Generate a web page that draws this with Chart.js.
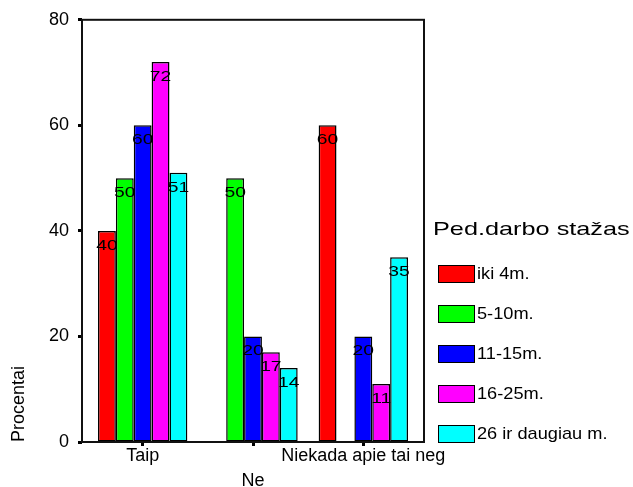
<!DOCTYPE html>
<html>
<head>
<meta charset="utf-8">
<title>Ped.darbo stažas</title>
<script src="https://cdn.jsdelivr.net/npm/chart.js@4.4.1/dist/chart.umd.min.js"></script>
<style>
  html, body { margin: 0; padding: 0; background: #fff; }
  #wrap { position: relative; width: 633px; height: 487px; overflow: hidden; }
  #chart { display: block; }
  #legend { position: absolute; left: 0; top: 0; width: 633px; height: 487px; pointer-events: none;
            font-family: "Liberation Sans", Arial, sans-serif; color: #000; }
  .lg-title { position: absolute; left: 433px; top: 219px; font-size: 19px; line-height: 19px;
              white-space: nowrap; transform: scaleX(1.33); transform-origin: 0 0; }
  .lg-box { position: absolute; left: 438px; width: 37px; height: 18px; box-sizing: border-box;
            border: 1.5px solid #000; }
  .lg-text { position: absolute; left: 477px; font-size: 17px; line-height: 18px; height: 18px;
             white-space: nowrap; transform: scaleX(1.07); transform-origin: 0 0; }
</style>
</head>
<body>
<div id="wrap">
  <canvas id="chart" width="633" height="487"></canvas>
  <div id="legend"></div>
</div>
<script>
// Answer categories along the x axis
const categories = ['Taip', 'Ne', 'Niekada apie tai neg'];

// Work experience groups (legend entries)
const seriesNames = ['iki 4m.', '5-10m.', '11-15m.', '16-25m.', '26 ir daugiau m.'];

// Percent per category for each experience group (null = no bar)
const iki4m = [40, null, 60];
const m5to10 = [50, 50, null];
const m11to15 = [60, 20, 20];
const m16to25 = [72, 17, 11];
const m26plus = [51, 14, 35];

// Value axis ticks
const yTicks = [0, 20, 40, 60, 80];

const seriesValues = [iki4m, m5to10, m11to15, m16to25, m26plus];
const seriesColors = ['#ff0000', '#00ff00', '#0000ff', '#ff00ff', '#00ffff'];

const FONT = '"Liberation Sans", Arial, sans-serif';

const datasets = seriesNames.map((name, i) => ({
  label: name,
  data: seriesValues[i].map((v, j) => ({ x: j, y: v })),
  backgroundColor: seriesColors[i],
  borderColor: '#000',
  borderWidth: 1.5,
  borderSkipped: false
}));

// Black frame around the plot area
const plotFrame = {
  id: 'plotFrame',
  afterDatasetsDraw(chart) {
    const { ctx, chartArea: a } = chart;
    ctx.save();
    ctx.strokeStyle = '#111';
    ctx.lineWidth = 2;
    ctx.strokeRect(a.left, a.top, a.right - a.left, a.bottom - a.top);
    ctx.restore();
  }
};

// Value printed just below the top of each bar
const valueLabels = {
  id: 'valueLabels',
  afterDatasetsDraw(chart) {
    const ctx = chart.ctx;
    ctx.save();
    ctx.fillStyle = '#000';
    ctx.font = '14.5px ' + FONT;
    ctx.textAlign = 'center';
    ctx.textBaseline = 'middle';
    chart.data.datasets.forEach((ds, di) => {
      const meta = chart.getDatasetMeta(di);
      meta.data.forEach((bar, j) => {
        const v = ds.data[j].y;
        if (v === null || v === undefined) return;
        ctx.save();
        ctx.translate(bar.x, bar.y + 15);
        ctx.scale(1.33, 1);
        ctx.fillText(String(v), 0, 0);
        ctx.restore();
      });
    });
    ctx.restore();
  }
};

const chart = new Chart(document.getElementById('chart'), {
  type: 'bar',
  data: { datasets },
  options: {
    responsive: false,
    animation: false,
    devicePixelRatio: 1,
    layout: { padding: { top: 19, right: 209, left: 0, bottom: 0 } },
    datasets: { bar: { barPercentage: 1, categoryPercentage: 0.81 } },
    plugins: {
      legend: { display: false },
      tooltip: { enabled: false }
    },
    scales: {
      x: {
        type: 'linear',
        offset: false,
        min: -0.55,
        max: categories.length - 1 + 0.55,
        afterBuildTicks(scale) {
          scale.ticks = categories.map((_, i) => ({ value: i }));
        },
        afterFit(scale) { scale.height = 45; },
        border: { display: false },
        grid: {
          offset: false,
          drawOnChartArea: false,
          drawTicks: true,
          tickLength: 4,
          tickWidth: 3,
          tickColor: '#000'
        },
        ticks: {
          autoSkip: false,
          maxRotation: 0,
          minRotation: 0,
          padding: -2,
          color: '#000',
          font: { family: FONT, size: 18, lineHeight: 1.39 },
          callback(value, index) {
            const label = categories[value];
            // every second label drops to a lower line so long names do not collide
            return index % 2 === 1 ? ['', label] : label;
          }
        }
      },
      y: {
        min: yTicks[0],
        max: yTicks[yTicks.length - 1],
        afterBuildTicks(scale) {
          scale.ticks = yTicks.map(v => ({ value: v }));
        },
        afterFit(scale) { scale.width = 82; },
        border: { display: false },
        grid: {
          drawOnChartArea: false,
          drawTicks: true,
          tickLength: 4,
          tickWidth: 3,
          tickColor: '#000'
        },
        ticks: {
          padding: 9,
          color: '#000',
          font: { family: FONT, size: 18 }
        },
        title: {
          display: true,
          text: 'Procentai',
          align: 'start',
          color: '#000',
          padding: { top: 8, bottom: 0 },
          font: { family: FONT, size: 18 }
        }
      }
    }
  },
  plugins: [plotFrame, valueLabels]
});

// Legend built from the chart's datasets
(function buildLegend() {
  const el = document.getElementById('legend');
  const title = document.createElement('div');
  title.className = 'lg-title';
  title.textContent = 'Ped.darbo stažas';
  el.appendChild(title);
  chart.data.datasets.forEach((ds, i) => {
    const top = 265 + i * 40;
    const box = document.createElement('div');
    box.className = 'lg-box';
    box.style.top = top + 'px';
    box.style.background = ds.backgroundColor;
    el.appendChild(box);
    const txt = document.createElement('div');
    txt.className = 'lg-text';
    txt.style.top = top + 'px';
    txt.textContent = ds.label;
    el.appendChild(txt);
  });
})();
</script>
</body>
</html>
